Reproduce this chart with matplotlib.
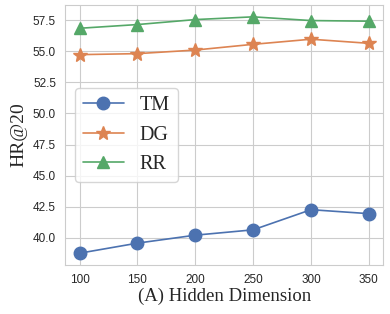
import matplotlib
matplotlib.use("Agg")
import matplotlib.pyplot as plt
import seaborn as sns

# hidden dimension sweep
dims = [100, 150, 200, 250, 300, 350]
tm = [38.76, 39.57, 40.21, 40.64, 42.26, 41.94]
dg = [54.73, 54.81, 55.10, 55.56, 55.97, 55.64]
rr = [56.85, 57.15, 57.55, 57.77, 57.47, 57.42]

sns.set_style("whitegrid")
plt.rcParams['font.family'] = ['Liberation Sans', 'DejaVu Sans']

colors = sns.color_palette("deep")

fig = plt.figure(figsize=(3.9, 3.14), dpi=100)
ax = fig.add_axes([0.167, 0.156, 0.816, 0.828])

ax.plot(dims, tm, marker="o", markersize=9, lw=1.2, color=colors[0], label="TM")
ax.plot(dims, dg, marker="*", markersize=10, lw=1.2, color=colors[1], label="DG")
ax.plot(dims, rr, marker="^", markersize=9, lw=1.2, color=colors[2], label="RR")

ax.set_xticks(dims)
ax.tick_params(labelsize=8.5, pad=3)
ax.set_ylabel("HR@20", family="Liberation Serif", fontsize=14)
ax.set_xlabel("(A) Hidden Dimension", family="Liberation Serif", fontsize=13.5, labelpad=1)

ax.legend(loc="center left", prop={"family": "Liberation Serif", "size": 14.5})

fig.savefig("out.png", dpi=100)
